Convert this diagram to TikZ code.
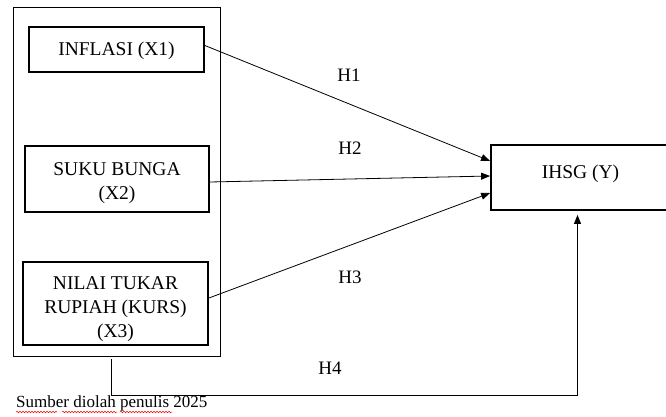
\documentclass[tikz,border=0pt]{standalone}
\usepackage{fontspec}
\setmainfont{Liberation Serif}
\usetikzlibrary{arrows.meta,calc,decorations.pathmorphing}
\begin{document}
\begin{tikzpicture}[x=1pt,y=1pt,
  vbox/.style={draw,line width=1.8pt,inner sep=0pt,align=center,font=\fontsize{19.5}{24}\selectfont},
  outerbox/.style={draw,line width=0.8pt,inner sep=0pt},
  conn/.style={line width=0.8pt,-{Triangle[length=9pt,width=7pt]}},
  hlab/.style={font=\fontsize{19}{22}\selectfont,inner sep=0pt},
  squig/.style={draw=red,line width=0.5pt,decorate,decoration={snake,amplitude=0.8pt,segment length=3pt}}]
\clip (0,0) rectangle (666,416);
\useasboundingbox (0,0) rectangle (666,416);
\node[outerbox,minimum width=207pt,minimum height=349pt] (outer) at (116.5,234.5) {};
\node[vbox,minimum width=175pt,minimum height=45pt] (inf) at (116.5,366.5) {\rule{0pt}{17pt}INFLASI (X1)};
\node[vbox,minimum width=184pt,minimum height=66pt] (suku) at (117,237) {\rule{0pt}{21pt}SUKU BUNGA\\(X2)};
\node[vbox,minimum width=185pt,minimum height=83pt] (nilai) at (115.5,112.5) {\rule{0pt}{24pt}NILAI TUKAR\\RUPIAH (KURS)\\(X3)};
\node[vbox,minimum width=179pt,minimum height=65pt] (ihsg) at (580.5,238.5) {IHSG (Y)\rule[-12pt]{0pt}{1pt}};
\draw[conn] ([yshift=4pt]inf.east) -- ([yshift=16.5pt]ihsg.west);
\draw[conn] ([yshift=-3pt]suku.east) -- ([yshift=1.5pt]ihsg.west);
\draw[conn] ([yshift=5.5pt]nilai.east) -- ([yshift=-15.5pt]ihsg.west);
\coordinate (h4s) at (111,57);
\draw[conn,shorten >=4pt] (h4s) -- (111,21) -| ([xshift=-3pt]ihsg.south);
\node[hlab] (h1) at (349,341) {H1};
\node[hlab] (h2) at (350,268) {H2};
\node[hlab] (h3) at (350,139) {H3};
\node[hlab] (h4) at (330,48) {H4};
\node[anchor=west,inner sep=0pt,font=\fontsize{17}{18}\selectfont] (src) at (16,12.5) {Sumber diolah penulis 2025};
\draw[squig] (16,4) -- (57,4);
\draw[squig] (62,4) -- (117,4);
\draw[squig] (120,4) -- (172,4);
\end{tikzpicture}
\end{document}
